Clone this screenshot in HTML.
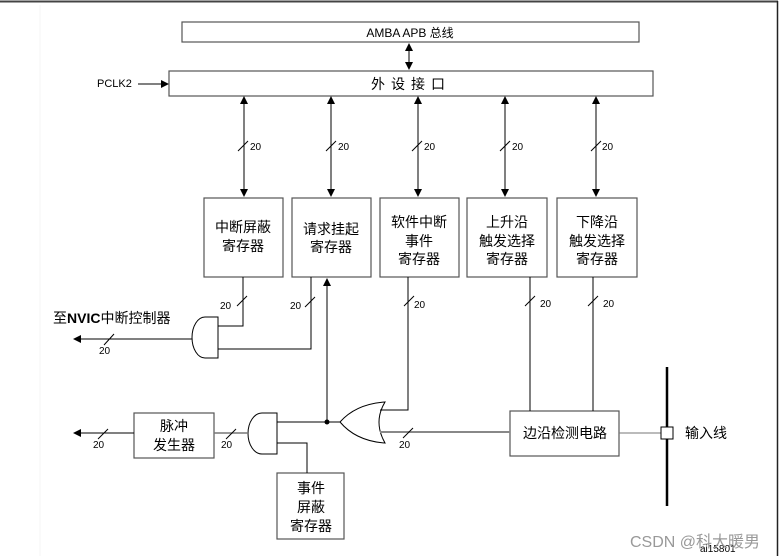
<!DOCTYPE html>
<html><head><meta charset="utf-8"><style>
html,body{margin:0;padding:0;background:#fff;}
svg{display:block;}
text{font-family:"Liberation Sans","Noto Sans CJK SC",sans-serif;fill:#000;}
</style></head><body>
<svg width="780" height="559" viewBox="0 0 780 559" xmlns="http://www.w3.org/2000/svg">
<defs>
<marker id="a" markerWidth="8" markerHeight="8" refX="7" refY="4" orient="auto" markerUnits="userSpaceOnUse"><path d="M0,0 L8,4 L0,8 z" fill="#000"/></marker>
<marker id="b" markerWidth="8" markerHeight="8" refX="1" refY="4" orient="auto" markerUnits="userSpaceOnUse"><path d="M8,0 L0,4 L8,8 z" fill="#000"/></marker>
</defs>
<line x1="0" y1="1.5" x2="778" y2="1.5" stroke="#444" stroke-width="2"/>
<line x1="777.5" y1="1" x2="777.5" y2="556" stroke="#222" stroke-width="1.5"/>
<line x1="40" y1="5" x2="40" y2="556" stroke="#f4f4f4" stroke-width="1"/>
<g stroke="#555" stroke-width="1.2" fill="none">
<rect x="182" y="22" width="457" height="20"/>
<rect x="169" y="71" width="484" height="25"/>
<rect x="204" y="198" width="79" height="79"/>
<rect x="292" y="198" width="79" height="79"/>
<rect x="380" y="198" width="79" height="79"/>
<rect x="467" y="198" width="80" height="79"/>
<rect x="557" y="198" width="80" height="79"/>
<rect x="134" y="413" width="80" height="45"/>
<rect x="277" y="473" width="67" height="66"/>
<rect x="510" y="411" width="109" height="45"/>
</g>
<text x="410" y="37" font-size="12" text-anchor="middle">AMBA APB 总线</text>
<text x="411" y="89" font-size="14" text-anchor="middle" letter-spacing="6">外设接口</text>
<text x="97" y="87" font-size="11">PCLK2</text>
<g stroke="#000" stroke-width="1" fill="none">
<line x1="409" y1="44" x2="409" y2="69" marker-start="url(#b)" marker-end="url(#a)"/>
<line x1="138" y1="84" x2="168" y2="84" marker-end="url(#a)"/>
<line x1="244" y1="97" x2="244" y2="196" marker-start="url(#b)" marker-end="url(#a)"/>
<line x1="331" y1="97" x2="331" y2="196" marker-start="url(#b)" marker-end="url(#a)"/>
<line x1="418" y1="97" x2="418" y2="196" marker-start="url(#b)" marker-end="url(#a)"/>
<line x1="505" y1="97" x2="505" y2="196" marker-start="url(#b)" marker-end="url(#a)"/>
<line x1="596" y1="97" x2="596" y2="196" marker-start="url(#b)" marker-end="url(#a)"/>
<line x1="238" y1="151" x2="248" y2="141"/><line x1="326" y1="151" x2="336" y2="141"/>
<line x1="412" y1="151" x2="422" y2="141"/><line x1="500" y1="151" x2="510" y2="141"/>
<line x1="591" y1="151" x2="601" y2="141"/>
<polyline points="243,277 243,326 218,326"/>
<polyline points="311,277 311,349 218,349"/>
<path d="M218,317 L205,317 A13,20.5 0 0 0 205,358 L218,358 Z"/>
<line x1="192" y1="339" x2="74" y2="339" marker-end="url(#a)"/>
<line x1="237" y1="306" x2="247" y2="296"/><line x1="305" y1="307" x2="315" y2="297"/>
<line x1="104" y1="345" x2="114" y2="334"/>
<line x1="327" y1="422" x2="327" y2="279" marker-end="url(#a)"/>
<line x1="340" y1="422" x2="277" y2="422"/>
<polyline points="408,277 408,410 380,410"/>
<path d="M340,422 Q356,404 385,402 Q373,422 385,443 Q356,441 340,422 Z"/>
<polyline points="277,443 307,443 307,473"/>
<path d="M277,413 L262,413 A14,20.5 0 0 0 262,454 L277,454 Z"/>
<line x1="248" y1="433" x2="214" y2="433" stroke="#777" stroke-width="1.5"/>
<line x1="134" y1="433" x2="74" y2="433" marker-end="url(#a)"/>
<line x1="98" y1="439" x2="108" y2="429"/><line x1="226" y1="439" x2="236" y2="429"/>
<line x1="530" y1="277" x2="530" y2="411"/><line x1="593" y1="277" x2="593" y2="411"/>
<line x1="525" y1="306" x2="535" y2="296"/><line x1="588" y1="306" x2="598" y2="296"/>
<line x1="404" y1="306" x2="414" y2="296"/>
<line x1="380" y1="432" x2="510" y2="432" stroke="#888" stroke-width="2"/>
<line x1="403" y1="438" x2="413" y2="428"/>
<line x1="619" y1="433" x2="661" y2="433" stroke="#777"/>
</g>
<circle cx="327" cy="422" r="2.5" fill="#000"/>
<line x1="667" y1="367" x2="667" y2="506" stroke="#000" stroke-width="2.5"/>
<rect x="661" y="427" width="12" height="12" fill="#fff" stroke="#000" stroke-width="1"/>
<g font-size="10">
<text x="250" y="150">20</text><text x="338" y="150">20</text><text x="424" y="150">20</text>
<text x="512" y="150">20</text><text x="602" y="150">20</text>
<text x="220" y="309">20</text><text x="290" y="309">20</text><text x="414" y="308">20</text>
<text x="540" y="307">20</text><text x="603" y="307">20</text>
<text x="99" y="354">20</text><text x="93" y="448">20</text><text x="221" y="448">20</text>
<text x="399" y="448">20</text>
</g>
<g font-size="14" text-anchor="middle">
<text x="243" y="232">中断屏蔽</text><text x="243" y="251">寄存器</text>
<text x="331" y="234">请求挂起</text><text x="331" y="252">寄存器</text>
<text x="419" y="227">软件中断</text><text x="419" y="246">事件</text><text x="419" y="264">寄存器</text>
<text x="507" y="227">上升沿</text><text x="507" y="246">触发选择</text><text x="507" y="264">寄存器</text>
<text x="597" y="227">下降沿</text><text x="597" y="246">触发选择</text><text x="597" y="264">寄存器</text>
<text x="174" y="431">脉冲</text><text x="174" y="450">发生器</text>
<text x="311" y="493">事件</text><text x="311" y="512">屏蔽</text><text x="311" y="531">寄存器</text>
<text x="565" y="438">边沿检测电路</text>
</g>
<text x="53" y="323" font-size="14">至<tspan font-weight="bold">NVIC</tspan>中断控制器</text>
<text x="685" y="438" font-size="14">输入线</text>
<text x="700" y="552" font-size="10">ai15801</text>
<text x="630" y="547" font-size="16" style="fill:#999">CSDN @科大暖男</text>
</svg>
</body></html>
